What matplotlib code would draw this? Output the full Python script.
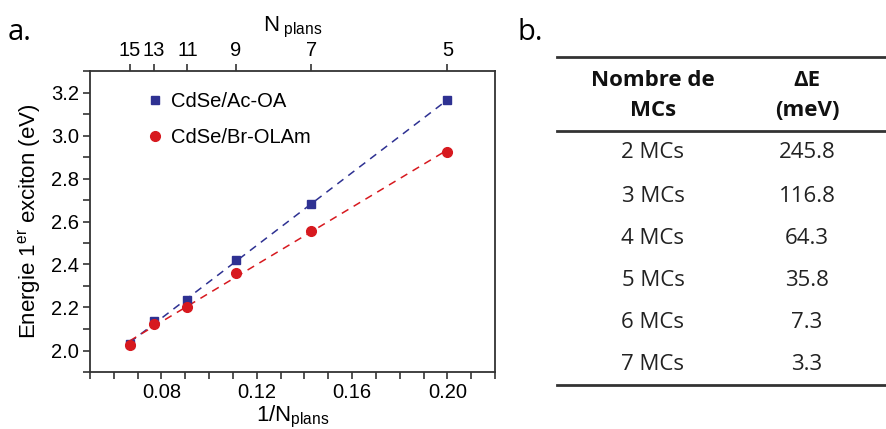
import numpy as np
from matplotlib import pyplot as plt
from matplotlib.lines import Line2D
from matplotlib.ticker import MultipleLocator

# Fonts: Arial-like for the plot, Calibri-like for the table
plt.rcParams['font.family'] = ['Liberation Sans', 'DejaVu Sans']
plt.rcParams['mathtext.fontset'] = 'custom'
plt.rcParams['mathtext.rm'] = 'Liberation Sans'
plt.rcParams['mathtext.it'] = 'Liberation Sans:italic'

# Data
n_plans = [15, 13, 11, 9, 7, 5]
e_ac_oa = [2.03, 2.135, 2.235, 2.42, 2.68, 3.165]
e_br_olam = [2.025, 2.125, 2.20, 2.36, 2.555, 2.925]

table_mcs = ['2 MCs', '3 MCs', '4 MCs', '5 MCs', '6 MCs', '7 MCs']
table_de = [245.8, 116.8, 64.3, 35.8, 7.3, 3.3]

inv_n = 1.0 / np.array(n_plans)

fig = plt.figure(figsize=(8.87, 4.29), dpi=100)
W, H = 887, 429

def fx(px):
    return px / W

def fy(py):
    return 1 - py / H

ax = fig.add_axes([fx(90), fy(372), fx(495) - fx(90), fy(71) - fy(372)])

blue = '#2e3192'
red = '#d7191f'

# Linear fits shown as dashed lines
for y, c in [(e_ac_oa, blue), (e_br_olam, red)]:
    p = np.polyfit(inv_n, y, 1)
    xs = np.array([inv_n.min(), inv_n.max()])
    ax.plot(xs, np.polyval(p, xs), color=c, lw=1.1, ls=(0, (5, 4)))

ax.plot(inv_n, e_ac_oa, 's', color=blue, ms=5.5, label='CdSe/Ac-OA')
ax.plot(inv_n, e_br_olam, 'o', color=red, ms=7, label='CdSe/Br-OLAm')

ax.set_xlim(0.05, 0.22)
ax.set_ylim(1.9, 3.3)
ax.xaxis.set_minor_locator(MultipleLocator(0.01))
ax.yaxis.set_major_locator(MultipleLocator(0.2))
ax.yaxis.set_minor_locator(MultipleLocator(0.1))
ax.set_xticks([0.08, 0.12, 0.16, 0.20])
ax.set_xticklabels(['0.08', '0.12', '0.16', '0.20'])
ax.tick_params(which='both', direction='out', top=False, right=False,
               labelsize=14.5, width=1.2, color='#333333', length=5, pad=3)
for s in ax.spines.values():
    s.set_linewidth(1.3)
    s.set_color('#333333')

ax.set_xlabel(r'1/N$_{\mathrm{plans}}$', fontsize=16, labelpad=1)
ax.set_ylabel(r'Energie 1$^{\mathrm{er}}$ exciton (eV)', fontsize=16, labelpad=6)

leg = ax.legend(loc='upper left', bbox_to_anchor=(0.09, 0.99), frameon=False,
                fontsize=14.5, handletextpad=0.3, labelspacing=0.85,
                handlelength=1.0)

# Top axis: number of planes
top = ax.twiny()
top.set_xlim(ax.get_xlim())
top.set_xticks(inv_n)
top.set_xticklabels([str(n) for n in n_plans])
top.tick_params(direction='out', labelsize=14.5, width=1.2, length=5,
                color='#333333', pad=3)
top.set_xlabel(r'N$_{\ \mathrm{plans}}$', fontsize=16, labelpad=7)
for s in top.spines.values():
    s.set_visible(False)

# Panel letters
fig.text(fx(8), fy(32), 'a.', fontsize=21, family='Open Sans', va='center')
fig.text(fx(518), fy(32), 'b.', fontsize=21, family='Open Sans', va='center')

# Table b.
tfont = 'Open Sans'
x0, x1 = fx(557), 1.0
for py in [57, 131, 385]:
    fig.add_artist(Line2D([x0, x1], [fy(py), fy(py)], color='#333333', lw=2.0))

col1, col2 = fx(653), fx(807)
hdr = dict(ha='center', va='center', fontsize=16, family=tfont, weight='bold',
           color='#111111')
fig.text(col1, fy(80), 'Nombre de', **hdr)
fig.text(col1, fy(111), 'MCs', **hdr)
fig.text(col2, fy(80), 'ΔE', **hdr)
fig.text(col2, fy(111), '(meV)', **hdr)

row_y = [153, 196, 238, 280, 322, 364]
for py, name, val in zip(row_y, table_mcs, table_de):
    fig.text(col1, fy(py), name, ha='center', va='center', fontsize=16,
             family=tfont, color='#222222')
    fig.text(col2, fy(py), f'{val:.1f}', ha='center', va='center',
             fontsize=16, family=tfont, color='#222222')

fig.savefig('out.png', dpi=100)
